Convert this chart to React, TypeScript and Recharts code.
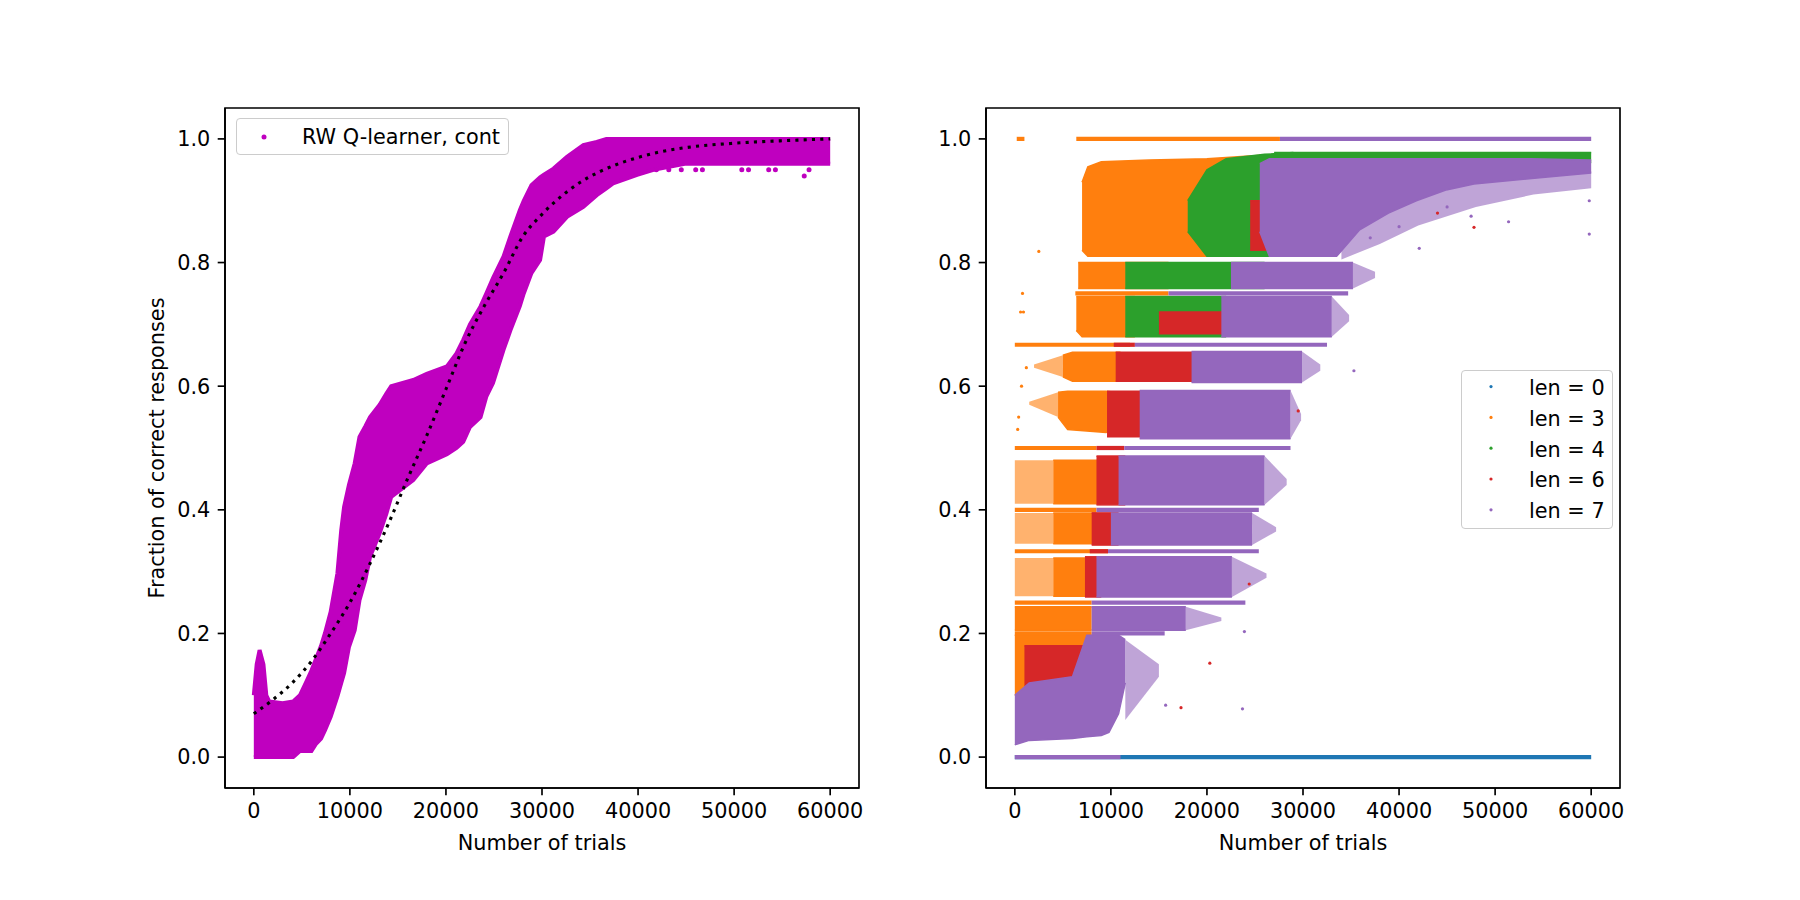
import React from "react";
import { ComposedChart, Area, Line, Scatter, XAxis, YAxis, Legend, ReferenceArea } from "recharts";

// ---------- shared ticks ----------
const xTicks = [0, 10000, 20000, 30000, 40000, 50000, 60000];
const yTicks = [0, 0.2, 0.4, 0.6, 0.8, 1.0];

// ---------- left panel: RW Q-learner cloud (lower / upper envelope) ----------
const leftX = [0, 300, 600, 1000, 1300, 1600, 3000, 4100, 4800, 5500, 6000, 6500, 7000, 7400, 8000, 8700, 9100, 9400, 9900, 10500, 11000, 11600, 12100, 13100, 13800, 14300, 16600, 18000, 20100, 21100, 21800, 22500, 23600, 24200, 24900, 26000, 26700, 27700, 28100, 28900, 29800, 30200, 31200, 32600, 34300, 35700, 36700, 37400, 39900, 41600, 45000, 60000];
const leftLow = [0, 0, 0, 0, 0, 0, 0, 0, 0.01, 0.01, 0.01, 0.022, 0.03, 0.043, 0.065, 0.098, 0.12, 0.136, 0.178, 0.205, 0.254, 0.286, 0.324, 0.362, 0.394, 0.421, 0.448, 0.475, 0.49, 0.5, 0.51, 0.534, 0.55, 0.583, 0.605, 0.659, 0.69, 0.73, 0.75, 0.783, 0.804, 0.842, 0.85, 0.874, 0.89, 0.909, 0.92, 0.928, 0.942, 0.95, 0.96, 0.96];
const leftHigh = [0.1, 0.15, 0.173, 0.15, 0.1, 0.09, 0.087, 0.09, 0.1, 0.123, 0.14, 0.16, 0.18, 0.2, 0.235, 0.297, 0.367, 0.405, 0.44, 0.475, 0.518, 0.535, 0.55, 0.57, 0.588, 0.6, 0.61, 0.62, 0.632, 0.653, 0.675, 0.7, 0.729, 0.75, 0.775, 0.81, 0.842, 0.885, 0.9, 0.925, 0.938, 0.942, 0.952, 0.971, 0.99, 0.995, 1.0, 1.0, 1.0, 1.0, 1.0, 1.0];
const leftOutliers = [[41900, 0.95], [43200, 0.95], [44500, 0.95], [46000, 0.95], [46700, 0.95], [50800, 0.95], [51500, 0.95], [53600, 0.95], [54300, 0.95], [57300, 0.94], [57800, 0.95]];

// dotted fit curve
const fitX = [0, 2000, 4000, 6000, 8000, 10000, 12000, 14000, 16000, 18000, 20000, 22000, 24000, 26000, 28000, 30000, 32000, 34000, 36000, 38000, 40000, 42000, 45000, 50000, 55000, 60000];
const fitY = [0.07, 0.093, 0.12, 0.155, 0.2, 0.25, 0.31, 0.377, 0.45, 0.52, 0.595, 0.67, 0.73, 0.783, 0.842, 0.878, 0.907, 0.93, 0.947, 0.96, 0.97, 0.978, 0.986, 0.993, 0.997, 1.0];

// ---------- right panel: clouds per sequence length ----------
// patch rows: [trials, low, high]
const lenLabels = ["len = 0", "len = 3", "len = 4", "len = 6", "len = 7"];

const len3Patches = [
  [[7000, 0.82, 0.93], [7600, 0.81, 0.955], [9000, 0.81, 0.963], [14000, 0.81, 0.966], [20000, 0.81, 0.968], [24000, 0.81, 0.972], [27500, 0.81, 0.975]],
  [[6600, 0.758, 0.8], [16000, 0.758, 0.8]],
  [[6400, 0.69, 0.745], [7000, 0.68, 0.745], [12500, 0.68, 0.745]],
  [[5000, 0.615, 0.65], [6000, 0.608, 0.655], [11000, 0.608, 0.655]],
  [[4500, 0.55, 0.59], [5500, 0.53, 0.592], [9500, 0.525, 0.592], [10500, 0.53, 0.59]],
  [[4000, 0.41, 0.48], [9000, 0.41, 0.48]],
  [[4000, 0.345, 0.395], [8500, 0.345, 0.395]],
  [[4000, 0.26, 0.322], [8000, 0.26, 0.322]],
  [[0, 0.205, 0.243], [8000, 0.205, 0.243]],
  [[0, 0.1, 0.197], [8000, 0.1, 0.197]],
];
// thinner orange region near the start
const len3Sparse = [
  [[0, 0.41, 0.48], [4000, 0.41, 0.48]],
  [[0, 0.345, 0.395], [4000, 0.345, 0.395]],
  [[0, 0.26, 0.322], [4000, 0.26, 0.322]],
  [[1500, 0.57, 0.575], [4500, 0.55, 0.59]],
  [[2000, 0.63, 0.635], [5000, 0.615, 0.65]],
];
const len4Patches = [
  [[18000, 0.85, 0.9], [20000, 0.81, 0.95], [22000, 0.81, 0.968], [26000, 0.81, 0.975], [29000, 0.81, 0.978]],
  [[27000, 0.962, 0.978], [60000, 0.962, 0.978]],
  [[11500, 0.758, 0.8], [26000, 0.758, 0.8]],
  [[11500, 0.68, 0.745], [22000, 0.68, 0.745]],
];
const len6Patches = [
  [[24500, 0.82, 0.9], [26500, 0.82, 0.9]],
  [[15000, 0.685, 0.72], [23000, 0.685, 0.72]],
  [[10500, 0.608, 0.655], [18500, 0.608, 0.655]],
  [[9600, 0.518, 0.592], [14500, 0.518, 0.592]],
  [[8500, 0.408, 0.487], [11500, 0.408, 0.487]],
  [[8000, 0.343, 0.395], [10800, 0.343, 0.395]],
  [[7300, 0.259, 0.324], [9000, 0.259, 0.324]],
  [[1000, 0.1, 0.18], [7500, 0.1, 0.18]],
];
const len7Patches = [
  [[25500, 0.85, 0.96], [26500, 0.81, 0.968], [33500, 0.81, 0.968], [35900, 0.853, 0.968], [38900, 0.88, 0.968], [41800, 0.9, 0.968], [44800, 0.917, 0.968], [47800, 0.927, 0.968], [53800, 0.936, 0.968], [60000, 0.945, 0.966]],
  [[22500, 0.758, 0.8], [35200, 0.758, 0.8]],
  [[21500, 0.68, 0.745], [33000, 0.68, 0.745]],
  [[18400, 0.606, 0.656], [29900, 0.606, 0.656]],
  [[13000, 0.515, 0.593], [28700, 0.515, 0.593]],
  [[10800, 0.408, 0.487], [26000, 0.408, 0.487]],
  [[10000, 0.343, 0.395], [24700, 0.343, 0.395]],
  [[8500, 0.259, 0.324], [22600, 0.259, 0.324]],
  [[8000, 0.205, 0.243], [17800, 0.205, 0.243]],
  [[0, 0.02, 0.1], [1500, 0.027, 0.12], [6000, 0.03, 0.13], [7500, 0.033, 0.197], [9000, 0.035, 0.197], [9800, 0.04, 0.197], [10800, 0.07, 0.197], [11500, 0.12, 0.19]],
];
// thinning edges of the len = 7 clusters
const len7Fringe = [
  [[34000, 0.805, 0.86], [38000, 0.83, 0.885], [42000, 0.86, 0.905], [48000, 0.89, 0.93], [54000, 0.91, 0.94], [60000, 0.92, 0.948]],
  [[35200, 0.758, 0.8], [37500, 0.775, 0.785]],
  [[33000, 0.68, 0.745], [34800, 0.705, 0.715]],
  [[29900, 0.606, 0.656], [31800, 0.625, 0.635]],
  [[28700, 0.515, 0.593], [29800, 0.545, 0.555]],
  [[26000, 0.408, 0.487], [28300, 0.44, 0.45]],
  [[24700, 0.343, 0.395], [27200, 0.365, 0.372]],
  [[22600, 0.259, 0.324], [26200, 0.29, 0.297]],
  [[17800, 0.205, 0.243], [21500, 0.22, 0.226]],
  [[11500, 0.06, 0.19], [15000, 0.13, 0.15]],
];

// strip rows: [from, to, level]
const len0Strips = [[0, 60000, 0]];
const len3Strips = [[200, 1000, 1], [6400, 27600, 1], [6300, 16000, 0.75], [0, 12000, 0.667], [0, 8500, 0.5], [0, 8500, 0.4], [0, 9700, 0.333], [0, 8000, 0.25], [0, 8000, 0.2]];
const len6Strips = [[10300, 12500, 0.667], [8500, 11400, 0.5], [7800, 9700, 0.333]];
const len7Strips = [[27600, 60000, 1], [0, 11000, 0], [16000, 34700, 0.75], [12500, 32500, 0.667], [11400, 28700, 0.5], [8500, 25400, 0.4], [9700, 25400, 0.333], [8000, 24000, 0.25], [8000, 15600, 0.2]];

// scattered single points: [trials, fraction]
const len3Dots = [[2500, 0.818], [800, 0.75], [900, 0.72], [600, 0.72], [1200, 0.63], [700, 0.6], [400, 0.55], [300, 0.53]];
const len6Dots = [[47800, 0.857], [17300, 0.08], [20300, 0.152], [24400, 0.28], [44000, 0.88], [29500, 0.56]];
const len7Dots = [[35300, 0.625], [42100, 0.823], [51400, 0.866], [59800, 0.9], [59800, 0.846], [23700, 0.078], [15700, 0.084], [23900, 0.203], [45000, 0.89], [47500, 0.875], [40000, 0.858], [37000, 0.84]];

const none: number[][][] = [];
const rightSeries = [
  { name: lenLabels[0], color: "#1f77b4", patches: none, thin: none, strips: len0Strips, dots: [] as number[][] },
  { name: lenLabels[1], color: "#ff7f0e", patches: len3Patches, thin: len3Sparse, strips: len3Strips, dots: len3Dots },
  { name: lenLabels[2], color: "#2ca02c", patches: len4Patches, thin: none, strips: [] as number[][], dots: [] as number[][] },
  { name: lenLabels[3], color: "#d62728", patches: len6Patches, thin: none, strips: len6Strips, dots: len6Dots },
  { name: lenLabels[4], color: "#9467bd", patches: len7Patches, thin: len7Fringe, strips: len7Strips, dots: len7Dots },
];

const FONT = "DejaVu Sans, sans-serif";
const FS = 20.8;
const LW = 1.67;
const STRIP = 0.0034;

const tickStyle = { fill: "#000", fontSize: FS, fontFamily: FONT };
const lineStyle = { stroke: "#000", strokeWidth: LW };

const xLabel = (props: any) => {
  const vb = props.viewBox || {};
  return (
    <text x={vb.x + vb.width / 2} y={vb.y + 61.5} textAnchor="middle" fontFamily={FONT} fontSize={FS} fill="#000">
      Number of trials
    </text>
  );
};

const yLabel = (props: any) => {
  const vb = props.viewBox || {};
  const x = vb.x + 9;
  const y = vb.y + vb.height / 2;
  return (
    <text x={x} y={y} transform={`rotate(-90, ${x}, ${y})`} textAnchor="middle" fontFamily={FONT} fontSize={FS} fill="#000">
      Fraction of correct responses
    </text>
  );
};

const frame = (withYLabel: boolean) => [
  <XAxis
    key="x"
    type="number"
    dataKey="x"
    domain={[-3000, 63000]}
    ticks={xTicks}
    interval={0}
    allowDataOverflow
    height={60}
    tickSize={7.3}
    tickMargin={8}
    tick={tickStyle}
    tickLine={lineStyle}
    axisLine={lineStyle}
    label={xLabel}
  />,
  <YAxis
    key="y"
    type="number"
    domain={[-0.05, 1.05]}
    ticks={yTicks}
    interval={0}
    allowDataOverflow
    width={70}
    tickSize={7.3}
    tickMargin={7.4}
    tick={tickStyle}
    tickLine={lineStyle}
    axisLine={lineStyle}
    tickFormatter={(v: number) => v.toFixed(1)}
    label={withYLabel ? yLabel : undefined}
  />,
];

// axes box (matplotlib spines)
const spines = () => (
  <ReferenceArea x1={-3000} x2={63000} y1={-0.05} y2={1.05} fill="none" stroke="#000" strokeWidth={LW} ifOverflow="visible" />
);

const dotShape = (r: number, color: string) => (p: any) => <circle cx={p.cx} cy={p.cy} r={r} fill={color} />;

const boxStyle: React.CSSProperties = {
  width: "100%",
  height: "100%",
  boxSizing: "border-box",
  border: "1.5px solid #cccccc",
  borderRadius: 4,
  background: "rgba(255,255,255,0.8)",
};

const LeftLegend = () => (
  <div style={boxStyle}>
    <svg width={273} height={37} style={{ position: "absolute", left: 0, top: 0 }}>
      <circle cx={28} cy={19} r={2.5} fill="#bf00bf" />
      <text x={66} y={25.5} fontFamily={FONT} fontSize={FS} fill="#000">RW Q-learner, cont</text>
    </svg>
  </div>
);

const RightLegend = () => (
  <div style={boxStyle}>
    <svg width={152} height={159} style={{ position: "absolute", left: 0, top: 0 }}>
      {rightSeries.map((s, i) => (
        <g key={s.name}>
          <circle cx={30} cy={16.6 + 30.8 * i} r={1.6} fill={s.color} />
          <text x={68} y={25 + 30.8 * i} fontFamily={FONT} fontSize={FS} fill="#000">{s.name}</text>
        </g>
      ))}
    </svg>
  </div>
);

const bandData = leftX.map((x, i) => ({ x, r: [leftLow[i], leftHigh[i]] }));
const fitData = fitX.map((x, i) => ({ x, y: fitY[i] }));
const leftDotData = leftOutliers.map(([x, y]) => ({ x, y }));

const rangeArea = (key: string, data: any[], color: string, opacity: number, edge: number) => (
  <Area
    key={key}
    data={data}
    dataKey="r"
    type="linear"
    stroke={edge > 0 ? color : "none"}
    strokeWidth={edge}
    strokeOpacity={opacity}
    fill={color}
    fillOpacity={opacity}
    dot={false}
    activeDot={false}
    isAnimationActive={false}
  />
);

const App = () => {
  const rightItems: React.ReactNode[] = [];
  rightSeries.forEach((s, si) => {
    s.thin.forEach((patch, pi) => {
      rightItems.push(rangeArea(`t${si}-${pi}`, patch.map(([x, lo, hi]) => ({ x, r: [lo, hi] })), s.color, 0.6, 0));
    });
    s.patches.forEach((patch, pi) => {
      rightItems.push(rangeArea(`p${si}-${pi}`, patch.map(([x, lo, hi]) => ({ x, r: [lo, hi] })), s.color, 1, 1.5));
    });
    s.strips.forEach(([x0, x1, y], ti) => {
      rightItems.push(
        rangeArea(`s${si}-${ti}`, [{ x: x0, r: [y - STRIP, y + STRIP] }, { x: x1, r: [y - STRIP, y + STRIP] }], s.color, 1, 0)
      );
    });
    if (s.dots.length) {
      rightItems.push(
        <Scatter
          key={`d${si}`}
          data={s.dots.map(([x, y]) => ({ x, y }))}
          dataKey="y"
          fill={s.color}
          shape={dotShape(1.6, s.color)}
          isAnimationActive={false}
        />
      );
    }
  });

  return (
    <div style={{ position: "absolute", left: 0, top: 0, width: 1800, height: 900, background: "#fff", fontFamily: FONT }}>
      <div style={{ position: "absolute", left: 0, top: 0 }}>
        <ComposedChart width={900} height={900} margin={{ top: 108, right: 41, bottom: 52, left: 155 }}>
          {frame(true)}
          <Area
            data={bandData}
            dataKey="r"
            type="linear"
            stroke="#bf00bf"
            strokeWidth={4}
            fill="#bf00bf"
            fillOpacity={1}
            dot={false}
            activeDot={false}
            isAnimationActive={false}
          />
          <Scatter data={leftDotData} dataKey="y" fill="#bf00bf" shape={dotShape(2.5, "#bf00bf")} isAnimationActive={false} />
          <Line
            data={fitData}
            dataKey="y"
            type="monotone"
            stroke="#000"
            strokeWidth={3.1}
            strokeDasharray="3.1 5.2"
            dot={false}
            activeDot={false}
            isAnimationActive={false}
          />
          {spines()}
          <Legend
            layout="horizontal"
            verticalAlign="middle"
            align="center"
            wrapperStyle={{ left: 236, top: 118, width: 273, height: 37 }}
            content={() => <LeftLegend />}
          />
        </ComposedChart>
      </div>
      <div style={{ position: "absolute", left: 900, top: 0 }}>
        <ComposedChart width={900} height={900} margin={{ top: 108, right: 180, bottom: 52, left: 16 }}>
          {frame(false)}
          {rightItems}
          {spines()}
          <Legend
            layout="horizontal"
            verticalAlign="middle"
            align="center"
            wrapperStyle={{ left: 561, top: 370, width: 152, height: 159 }}
            content={() => <RightLegend />}
          />
        </ComposedChart>
      </div>
    </div>
  );
};

export default App;
